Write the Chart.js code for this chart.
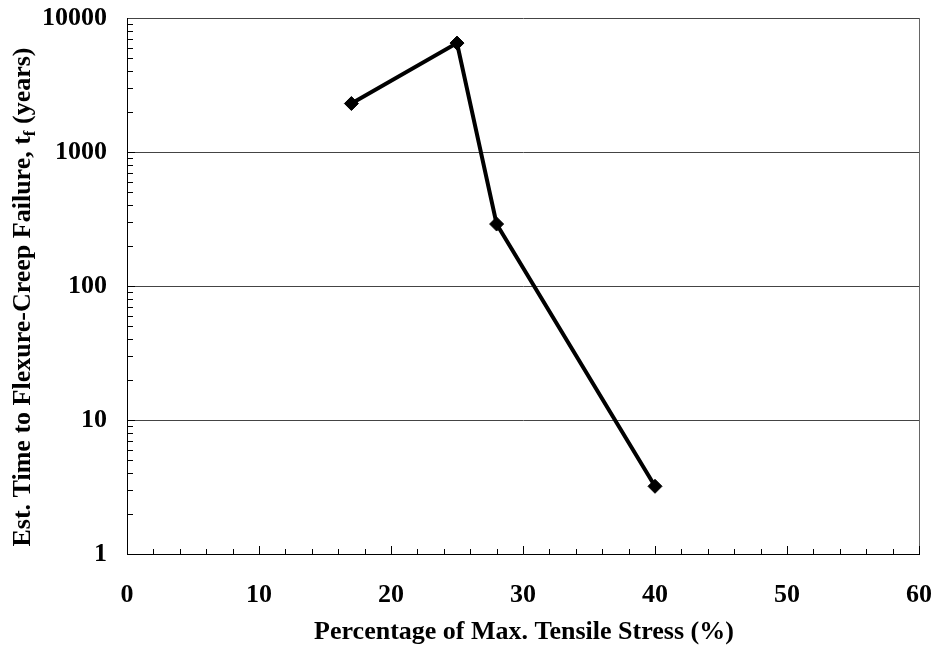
<!DOCTYPE html>
<html>
<head>
<meta charset="utf-8">
<script src="https://cdn.jsdelivr.net/npm/chart.js@4/dist/chart.umd.min.js"></script>
<style>
html,body{margin:0;padding:0;background:#fff;}
#wrap{width:935px;height:646px;}
</style>
</head>
<body>
<div id="wrap"><canvas id="c" width="935" height="646"></canvas></div>
<script>
const xValues = [17, 25, 28, 40];
const yValues = [2300, 6500, 290, 3.2];
const xTickLabels = [0, 10, 20, 30, 40, 50, 60];
const yTickLabels = [1, 10, 100, 1000, 10000];
const xTitle = 'Percentage of Max. Tensile Stress (%)';
const yTitleMain = 'Est. Time to Flexure-Creep Failure, t';
const yTitleSub = 'f';
const yTitleEnd = ' (years)';

const FONT = '"Liberation Serif", "Times New Roman", serif';
const FS = 26;

function zeroPad(s) {
  s.paddingTop = 0; s.paddingBottom = 0; s.paddingLeft = 0; s.paddingRight = 0;
}

const decorPlugin = {
  id: 'decor',
  afterDraw(chart) {
    const ctx = chart.ctx;
    const xs = chart.scales.x, ys = chart.scales.y;
    const a = chart.chartArea;
    ctx.save();
    // right border
    ctx.strokeStyle = '#666';
    ctx.lineWidth = 1;
    ctx.beginPath();
    ctx.moveTo(a.right + 0.5, a.top);
    ctx.lineTo(a.right + 0.5, a.bottom);
    ctx.stroke();
    // inward tick marks
    ctx.strokeStyle = '#000';
    ctx.beginPath();
    for (let v = xs.min; v <= xs.max; v += 2) {
      const px = Math.round(xs.getPixelForValue(v)) + 0.5;
      const len = (v % 10 === 0) ? 8 : 5;
      ctx.moveTo(px, a.bottom);
      ctx.lineTo(px, a.bottom - len);
    }
    for (let d = 0; d < 4; d++) {
      for (let m = 1; m <= 9; m++) {
        const v = m * Math.pow(10, d);
        const py = Math.round(ys.getPixelForValue(v)) + 0.5;
        const len = m === 1 ? 8 : 6;
        ctx.moveTo(a.left, py);
        ctx.lineTo(a.left + len, py);
      }
    }
    ctx.stroke();
    // x title
    ctx.fillStyle = '#000';
    ctx.font = 'bold ' + FS + 'px ' + FONT;
    ctx.textAlign = 'center';
    ctx.textBaseline = 'middle';
    ctx.fillText(xTitle, (a.left + a.right) / 2 + 1, 632);
    // y title with subscript
    ctx.translate(22, 297);
    ctx.rotate(-Math.PI / 2);
    ctx.font = 'bold ' + FS + 'px ' + FONT;
    const w1 = ctx.measureText(yTitleMain).width;
    const w3 = ctx.measureText(yTitleEnd).width;
    ctx.font = 'bold 17px ' + FONT;
    const w2 = ctx.measureText(yTitleSub).width;
    const total = w1 + w2 + w3;
    let x0 = -total / 2;
    ctx.textAlign = 'left';
    ctx.textBaseline = 'alphabetic';
    ctx.font = 'bold ' + FS + 'px ' + FONT;
    ctx.fillText(yTitleMain, x0, 8);
    ctx.font = 'bold 17px ' + FONT;
    ctx.fillText(yTitleSub, x0 + w1, 13);
    ctx.font = 'bold ' + FS + 'px ' + FONT;
    ctx.fillText(yTitleEnd, x0 + w1 + w2, 8);
    ctx.restore();
  }
};

new Chart(document.getElementById('c'), {
  type: 'line',
  data: {
    datasets: [{
      data: xValues.map((x, i) => ({ x: x, y: yValues[i] })),
      borderColor: '#000',
      backgroundColor: '#000',
      borderWidth: 4,
      pointStyle: 'rectRot',
      pointRadius: 7,
      pointHoverRadius: 7,
      pointBackgroundColor: '#000',
      pointBorderColor: '#000',
      pointBorderWidth: 1,
      tension: 0,
      fill: false
    }]
  },
  options: {
    responsive: false,
    animation: false,
    events: [],
    layout: { autoPadding: false, padding: { left: 0, top: 18, right: 16, bottom: 0 } },
    plugins: { legend: { display: false }, tooltip: { enabled: false } },
    scales: {
      x: {
        type: 'linear',
        min: 0, max: 60,
        afterFit(s) { s.height = 92; zeroPad(s); },
        afterBuildTicks(s) { s.ticks = xTickLabels.map(v => ({ value: v })); },
        grid: { drawOnChartArea: false, drawTicks: false },
        border: { color: '#000', width: 1 },
        ticks: {
          color: '#000',
          padding: 26,
          font: { family: FONT, size: FS, weight: 'bold' },
          maxRotation: 0,
          autoSkip: false
        }
      },
      y: {
        type: 'logarithmic',
        min: 1, max: 10000,
        afterFit(s) { s.width = 127; zeroPad(s); },
        afterBuildTicks(s) { s.ticks = yTickLabels.map(v => ({ value: v })); },
        grid: { drawOnChartArea: true, drawTicks: false, color: '#444', lineWidth: 1 },
        border: { color: '#000', width: 1 },
        ticks: {
          color: '#000',
          padding: 20,
          font: { family: FONT, size: FS, weight: 'bold' },
          autoSkip: false,
          callback: (v) => String(v)
        }
      }
    }
  },
  plugins: [decorPlugin]
});
</script>
</body>
</html>
